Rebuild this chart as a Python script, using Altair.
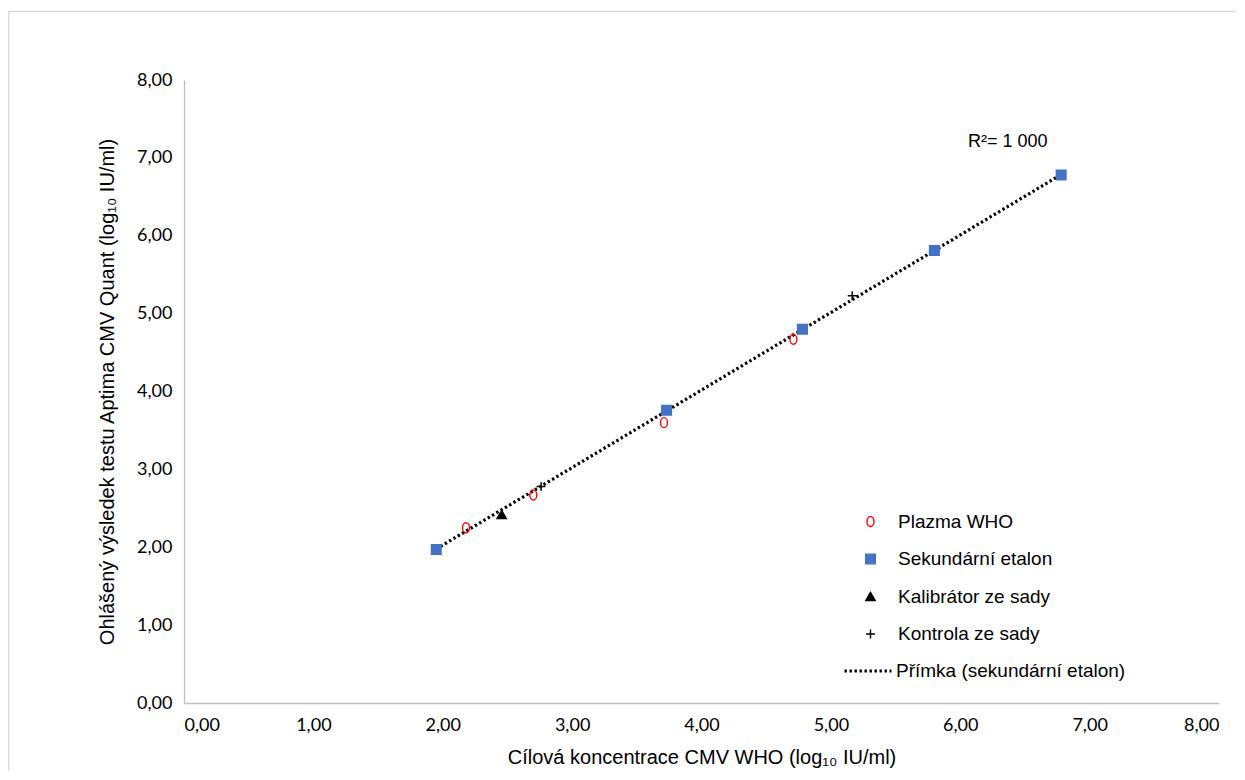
import altair as alt
import pandas as pd

# --- data ---
plazma_x = [2.18, 2.70, 3.71, 4.71]
plazma_y = [2.25, 2.67, 3.60, 4.67]

sek_x = [1.95, 3.73, 4.78, 5.80, 6.78]
sek_y = [1.97, 3.76, 4.80, 5.81, 6.78]

kal_x = [2.455]
kal_y = [2.42]

kon_x = [2.76, 5.165]
kon_y = [2.78, 5.23]

series_names = ["Plazma WHO", "Sekundární etalon", "Kalibrátor ze sady", "Kontrola ze sady"]
line_name = "Přímka (sekundární etalon)"

r2_text = ["R²= 1 000"]
r2_x = [6.06]
r2_y = [7.20]

axis_ticks = [0, 1, 2, 3, 4, 5, 6, 7, 8]

rows = []
for name, xs, ys in [
    (series_names[0], plazma_x, plazma_y),
    (series_names[1], sek_x, sek_y),
    (series_names[2], kal_x, kal_y),
    (series_names[3], kon_x, kon_y),
]:
    for a, b in zip(xs, ys):
        rows.append({"x": a, "y": b, "series": name})
points_df = pd.DataFrame(rows)

line_df = pd.DataFrame({"x": sek_x, "y": sek_y, "line": [line_name] * len(sek_x)})
text_df = pd.DataFrame({"x": r2_x, "y": r2_y, "t": r2_text})

label_expr = "replace(format(datum.value, '.2f'), '.', ',')"

x_scale = alt.Scale(domain=[0, 8], nice=False, zero=False)
y_scale = alt.Scale(domain=[0, 8], nice=False, zero=False)

x_axis = alt.Axis(
    values=axis_ticks, labelExpr=label_expr, grid=False, ticks=False,
    domainColor="#bfbfbf", domainWidth=1.3,
    labelFont="Lato", labelFontSize=18, labelColor="#000000", labelPadding=13,
    title="Cílová koncentrace CMV WHO (log₁₀ IU/ml)",
    titleFont="Liberation Sans", titleFontSize=20, titleFontWeight="normal",
    titleColor="#000000", titlePadding=13,
)
y_axis = alt.Axis(
    values=axis_ticks, labelExpr=label_expr, grid=False, ticks=False,
    domainColor="#bfbfbf", domainWidth=1.3,
    labelFont="Lato", labelFontSize=18, labelColor="#000000", labelPadding=12,
    title="Ohlášený výsledek testu Aptima CMV Quant (log₁₀ IU/ml)",
    titleFont="Liberation Sans", titleFontSize=20, titleFontWeight="normal",
    titleColor="#000000", titlePadding=19,
)

ellipse = "M0,-1A0.7,1 0 1,1 0,1A0.7,1 0 1,1 0,-1Z"
plus = "M-1,0L1,0M0,-1L0,1"

legend1 = alt.Legend(
    title=None, orient="none", legendX=677, legendY=432,
    labelFont="Liberation Sans", labelFontSize=19, labelColor="#000000",
    labelOffset=18, rowPadding=17.5, symbolStrokeWidth=1.4, padding=0,
    labelLimit=400,
)

points = alt.Chart(points_df).mark_point(opacity=1, strokeWidth=1.4).encode(
    x=alt.X("x:Q", scale=x_scale, axis=x_axis),
    y=alt.Y("y:Q", scale=y_scale, axis=y_axis),
    shape=alt.Shape("series:N", scale=alt.Scale(domain=series_names,
                    range=[ellipse, "square", "triangle-up", plus]), legend=legend1),
    fill=alt.Fill("series:N", scale=alt.Scale(domain=series_names,
                  range=["transparent", "#4472c4", "#000000", "transparent"]), legend=legend1),
    stroke=alt.Stroke("series:N", scale=alt.Scale(domain=series_names,
                      range=["#ff0000", "#4472c4", "#000000", "#000000"]), legend=legend1),
    size=alt.Size("series:N", scale=alt.Scale(domain=series_names,
                  range=[100, 80, 75, 100]), legend=legend1),
)

legend2 = alt.Legend(
    title=None, orient="none", legendX=659, legendY=566,
    labelFont="Liberation Sans", labelFontSize=19, labelColor="#000000",
    labelOffset=3, symbolType="stroke", symbolSize=2209, labelLimit=400,
    symbolStrokeColor="#000000", symbolStrokeWidth=3, padding=0,
)

trend = alt.Chart(line_df).transform_regression("x", "y", groupby=["line"]).mark_line(
    color="#000000", strokeWidth=3.2
).encode(
    x="x:Q",
    y="y:Q",
    strokeDash=alt.StrokeDash("line:N", scale=alt.Scale(domain=[line_name], range=[[2.4, 2.6]]),
                              legend=legend2),
)

r2 = alt.Chart(text_df).mark_text(
    align="left", baseline="middle", font="Liberation Sans", fontSize=18, color="#000000"
).encode(x="x:Q", y="y:Q", text="t:N")

border = alt.Chart(pd.DataFrame({"a": [0]})).mark_rect(
    filled=False, stroke="#d9d9d9", strokeWidth=1.5
).encode(
    x=alt.value(-175.5), x2=alt.value(1100), y=alt.value(-68.5), y2=alt.value(800)
)

chart = alt.layer(border, trend, points, r2).resolve_legend(
    strokeDash="independent"
).properties(
    width=1035, height=623,
    autosize=alt.AutoSizeParams(type="none"),
    padding={"left": 176, "top": 72, "right": 17, "bottom": 68},
).configure_view(stroke=None)

chart.save("out.html", embed_options={"renderer": "svg", "actions": False})
